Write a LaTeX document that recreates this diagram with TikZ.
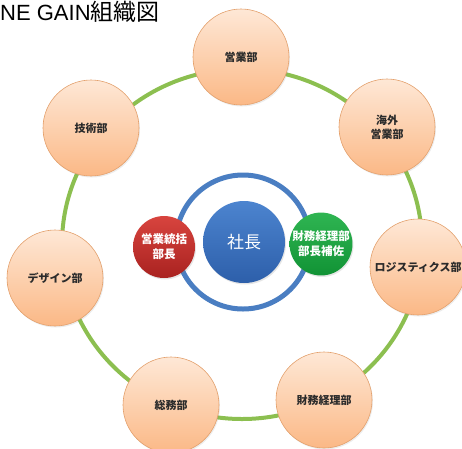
\documentclass[tikz,border=0pt]{standalone}
\usepackage{fontspec}
\newfontfamily\cjk{Noto Sans CJK JP}
\newfontfamily\latin{Liberation Sans}
\usetikzlibrary{shadows}
\definecolor{ringgreen}{HTML}{8CBF50}
\definecolor{ringblue}{HTML}{4A7EC2}
\definecolor{orTop}{HTML}{FEE8D6}
\definecolor{orBot}{HTML}{FBB886}
\definecolor{orLine}{HTML}{E3A06C}
\definecolor{rdTop}{HTML}{D8443E}
\definecolor{rdBot}{HTML}{A92220}
\definecolor{gnTop}{HTML}{2FB552}
\definecolor{gnBot}{HTML}{119335}
\definecolor{blTop}{HTML}{4C84CF}
\definecolor{blBot}{HTML}{2D5FAA}
\definecolor{txt}{HTML}{2B2B2B}
\tikzset{
  dept/.style={circle, minimum size=96pt, inner sep=0pt, draw=orLine, line width=0.6pt,
    top color=orTop, bottom color=orBot, font=\cjk\bfseries\fontsize{11}{14}\selectfont,
    text=txt, align=center, drop shadow={opacity=0.15, shadow xshift=1pt, shadow yshift=-1.5pt}},
  lead/.style={circle, minimum size=62pt, inner sep=0pt, text=white,
    font=\cjk\bfseries\fontsize{11.5}{15}\selectfont, align=center,
    drop shadow={opacity=0.2, shadow xshift=1pt, shadow yshift=-1.5pt}},
  boss/.style={circle, minimum size=82pt, inner sep=0pt, text=white,
    top color=blTop, bottom color=blBot, font=\cjk\fontsize{17}{19}\selectfont,
    drop shadow={opacity=0.2, shadow xshift=1pt, shadow yshift=-1.5pt}},
  title/.style={anchor=base west, inner sep=0pt, text=black}
}
\begin{document}
\begin{tikzpicture}[x=1pt,y=-1pt]
\useasboundingbox (0,0) rectangle (462,448);
\clip (0,0) rectangle (462,448);
\coordinate (c) at (242,244);
\coordinate (cc) at (243,242);
% outer ring
\draw[ringgreen, line width=4pt] (c) ellipse [x radius=180pt, y radius=175pt];
% departments
\node[dept] (eigyo) at (241,57) {営業部};
\node[dept] (kaigai) at (387,127) {海外\\営業部};
\node[dept] (logi) at (418,267) {ロジスティクス部};
\node[dept] (zaimu) at (324,400) {財務経理部};
\node[dept] (somu) at (171,405) {総務部};
\node[dept] (design) at (55,278) {デザイン部};
\node[dept] (gijutsu) at (91,128) {技術部};
% inner ring
\draw[ringblue, line width=5pt] (cc) circle [radius=67pt];
\node[boss] (shacho) at (244,242) {社長};
\node[lead, top color=rdTop, bottom color=rdBot] (eigyotokatsu) at (164,247) {営業統括\\部長};
\node[lead, top color=gnTop, bottom color=gnBot] (zaimuhosa) at (321,244) {財務経理部\\部長補佐};
% title
\node[title] (ttl) at (0,20) {{\latin\fontsize{22}{24}\selectfont NE GAIN}{\cjk\fontsize{23}{24}\selectfont 組織図}};
\end{tikzpicture}
\end{document}
